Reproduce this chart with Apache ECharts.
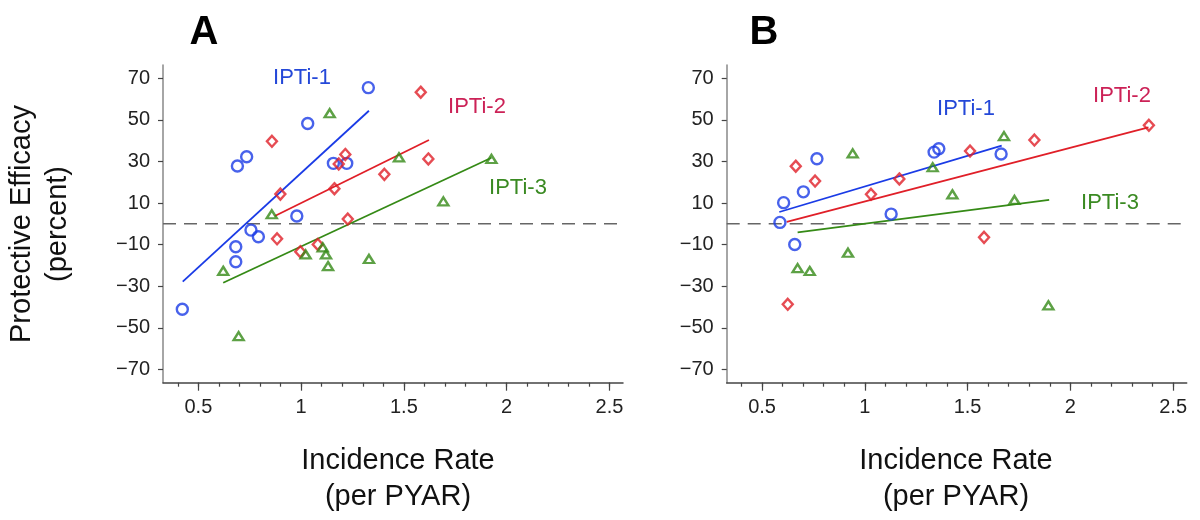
<!DOCTYPE html>
<html>
<head>
<meta charset="utf-8">
<title>IPTi protective efficacy vs incidence</title>
<script src="https://cdn.jsdelivr.net/npm/echarts@6/dist/echarts.min.js"></script>
<style>
  html, body { margin: 0; padding: 0; background: #fff; }
  #main { width: 1200px; height: 520px; }
</style>
</head>
<body>
<div id="main"></div>
<script>
// ---- data ----
// panel A
var aIpti1X = [1.327, 1.032, 0.690, 0.735, 1.157, 1.222, 0.979, 0.756, 0.792, 0.682, 0.682, 0.422];
var aIpti1Y = [65.5, 48.3, 27.8, 32.3, 29.1, 29.1, 3.8, -3.0, -6.2, -11.0, -18.2, -41.1];
var aIpti2X = [1.582, 0.858, 0.899, 1.215, 1.183, 1.162, 1.619, 1.405, 1.227, 0.883, 1.081, 0.996];
var aIpti2Y = [63.3, 39.7, 14.3, 33.4, 28.8, 16.9, 31.2, 23.8, 2.3, -7.2, -9.9, -13.4];
var aIpti3X = [1.139, 1.476, 1.926, 1.692, 0.857, 0.621, 0.696, 1.022, 1.105, 1.121, 1.131, 1.330];
var aIpti3Y = [53.2, 32.0, 31.2, 10.8, 4.6, -22.6, -54.0, -14.7, -11.3, -14.7, -20.3, -16.9];
// fitted lines, [x0, x1] and [y0, y1]
var aFit1X = [0.424, 1.330], aFit1Y = [-27.8, 54.4];
var aFit2X = [0.872, 1.622], aFit2Y = [3.75, 40.3];
var aFit3X = [0.621, 1.926], aFit3Y = [-28.3, 31.8];

// panel B
var bIpti1X = [0.587, 0.605, 0.701, 0.767, 0.659, 1.128, 1.337, 1.360, 1.663];
var bIpti1Y = [0.7, 10.2, 15.4, 31.3, -9.9, 4.7, 34.5, 36.1, 33.6];
var bIpti2X = [0.664, 0.758, 1.030, 1.168, 1.512, 1.825, 2.382, 1.580, 0.625];
var bIpti2Y = [27.7, 20.6, 14.2, 21.6, 35.0, 40.3, 47.4, -6.5, -38.7];
var bIpti3X = [0.941, 1.330, 1.677, 1.426, 1.728, 0.918, 0.673, 0.732, 1.893];
var bIpti3Y = [33.9, 27.2, 42.2, 14.2, 11.5, -13.9, -21.3, -22.7, -39.2];
var bFit1X = [0.584, 1.666], bFit1Y = [5.7, 37.6];
var bFit2X = [0.620, 2.380], bFit2Y = [1.0, 46.4];
var bFit3X = [0.673, 1.897], bFit3Y = [-4.1, 11.5];

// axes
var xMajorTicks = [0.5, 1, 1.5, 2, 2.5];
var xMinorTicks = [0.4, 0.5, 0.6, 0.7, 0.8, 0.9, 1.0, 1.1, 1.2, 1.3, 1.4, 1.5, 1.6, 1.7, 1.8, 1.9, 2.0, 2.1, 2.2, 2.3, 2.4, 2.5];
var yTicks = [-70, -50, -30, -10, 10, 30, 50, 70];
var refLineY = 0;

var FONT = '"Liberation Sans", Arial, Helvetica, sans-serif';
var BLUE = '#1a3be6', RED = '#e01f28', GREEN = '#358a16';
var XMIN = 0.328, XMAX = 2.566, YMIN = -76.4, YMAX = 76.4;

function pairs(xs, ys) {
    return xs.map(function (x, i) { return [x, ys[i]]; });
}

function scatter(name, idx, xs, ys, symbol, size, color) {
    return {
        name: name,
        type: 'scatter',
        xAxisIndex: idx * 2,
        yAxisIndex: idx,
        symbol: symbol,
        symbolSize: size,
        itemStyle: { color: 'rgba(0,0,0,0)', borderColor: color, borderWidth: 2.4 },
        silent: true,
        z: 5,
        data: pairs(xs, ys)
    };
}

function fitLine(idx, xs, ys, color) {
    return {
        type: 'line',
        xAxisIndex: idx * 2,
        yAxisIndex: idx,
        showSymbol: false,
        silent: true,
        lineStyle: { color: color, width: 1.8 },
        z: 4,
        data: pairs(xs, ys)
    };
}

// horizontal reference line at 0
function dashLine(idx) {
    return {
        type: 'line',
        xAxisIndex: idx * 2,
        yAxisIndex: idx,
        showSymbol: false,
        silent: true,
        lineStyle: { color: '#666', width: 1.5, type: [13, 8] },
        z: 3,
        data: [[XMIN, refLineY], [XMAX, refLineY]]
    };
}

// main x axis (labels + long ticks) and an overlaid one for the short ticks
function xAxes(gridIdx) {
    return [
        {
            type: 'value', gridIndex: gridIdx, position: 'bottom',
            min: XMIN, max: XMAX,
            splitLine: { show: false },
            axisLine: { onZero: false, lineStyle: { color: '#444', width: 1.5 } },
            axisTick: { customValues: xMajorTicks, length: 8, lineStyle: { color: '#444', width: 1.2 } },
            axisLabel: {
                customValues: xMajorTicks, margin: 15,
                fontSize: 20, fontFamily: FONT, color: '#222'
            }
        },
        {
            type: 'value', gridIndex: gridIdx, position: 'bottom',
            min: XMIN, max: XMAX,
            splitLine: { show: false },
            axisLine: { show: false, onZero: false },
            axisTick: { customValues: xMinorTicks, length: 4, lineStyle: { color: '#444', width: 1.2 } },
            axisLabel: { show: false }
        }
    ];
}

function yAxis(gridIdx) {
    return {
        type: 'value', gridIndex: gridIdx,
        min: YMIN, max: YMAX,
        splitLine: { show: false },
        axisLine: { show: true, onZero: false, lineStyle: { color: '#888', width: 1.5 } },
        axisTick: { show: true, customValues: yTicks, length: 5, lineStyle: { color: '#444', width: 1.2 } },
        axisLabel: {
            customValues: yTicks, margin: 13,
            fontSize: 20, fontFamily: FONT, color: '#222',
            formatter: function (v) { return String(v).replace('-', '\u2212'); }
        }
    };
}

function txt(x, y, s, size, color, weight, rot) {
    return {
        type: 'text', x: x, y: y, rotation: rot || 0,
        style: {
            text: s, fill: color, font: (weight || 'normal') + ' ' + size + 'px ' + FONT,
            align: 'center', verticalAlign: 'middle', lineHeight: Math.round(size * 1.25)
        }
    };
}

var chart = echarts.init(document.getElementById('main'));

chart.setOption({
    animation: false,
    backgroundColor: '#fff',
    grid: [
        { left: 163, top: 65, width: 460, height: 317.7 },
        { left: 726.7, top: 65, width: 460, height: 317.7 }
    ],
    xAxis: xAxes(0).concat(xAxes(1)),
    yAxis: [yAxis(0), yAxis(1)],
    series: [
        dashLine(0),
        fitLine(0, aFit1X, aFit1Y, BLUE),
        fitLine(0, aFit2X, aFit2Y, RED),
        fitLine(0, aFit3X, aFit3Y, GREEN),
        scatter('IPTi-1', 0, aIpti1X, aIpti1Y, 'circle', 11, BLUE),
        scatter('IPTi-2', 0, aIpti2X, aIpti2Y, 'diamond', [10, 11], RED),
        scatter('IPTi-3', 0, aIpti3X, aIpti3Y, 'triangle', [10, 8], GREEN),

        dashLine(1),
        fitLine(1, bFit1X, bFit1Y, BLUE),
        fitLine(1, bFit2X, bFit2Y, RED),
        fitLine(1, bFit3X, bFit3Y, GREEN),
        scatter('IPTi-1', 1, bIpti1X, bIpti1Y, 'circle', 11, BLUE),
        scatter('IPTi-2', 1, bIpti2X, bIpti2Y, 'diamond', [10, 11], RED),
        scatter('IPTi-3', 1, bIpti3X, bIpti3Y, 'triangle', [10, 8], GREEN)
    ],
    graphic: [
        // panel letters
        txt(204, 33, 'A', 40, '#000', 'bold'),
        txt(764, 33, 'B', 40, '#000', 'bold'),
        // group labels
        txt(302, 78, 'IPTi-1', 22, '#2448d8'),
        txt(477, 107, 'IPTi-2', 22, '#cc2257'),
        txt(518, 188, 'IPTi-3', 22, '#3a8a22'),
        txt(966, 109, 'IPTi-1', 22, '#2448d8'),
        txt(1122, 96, 'IPTi-2', 22, '#cc2257'),
        txt(1110, 203, 'IPTi-3', 22, '#3a8a22'),
        // axis titles
        txt(40, 224, 'Protective Efficacy\n(percent)', 29, '#111', 'normal', Math.PI / 2),
        txt(398, 479, 'Incidence Rate\n(per PYAR)', 29, '#111'),
        txt(956, 479, 'Incidence Rate\n(per PYAR)', 29, '#111')
    ]
});
</script>
</body>
</html>
